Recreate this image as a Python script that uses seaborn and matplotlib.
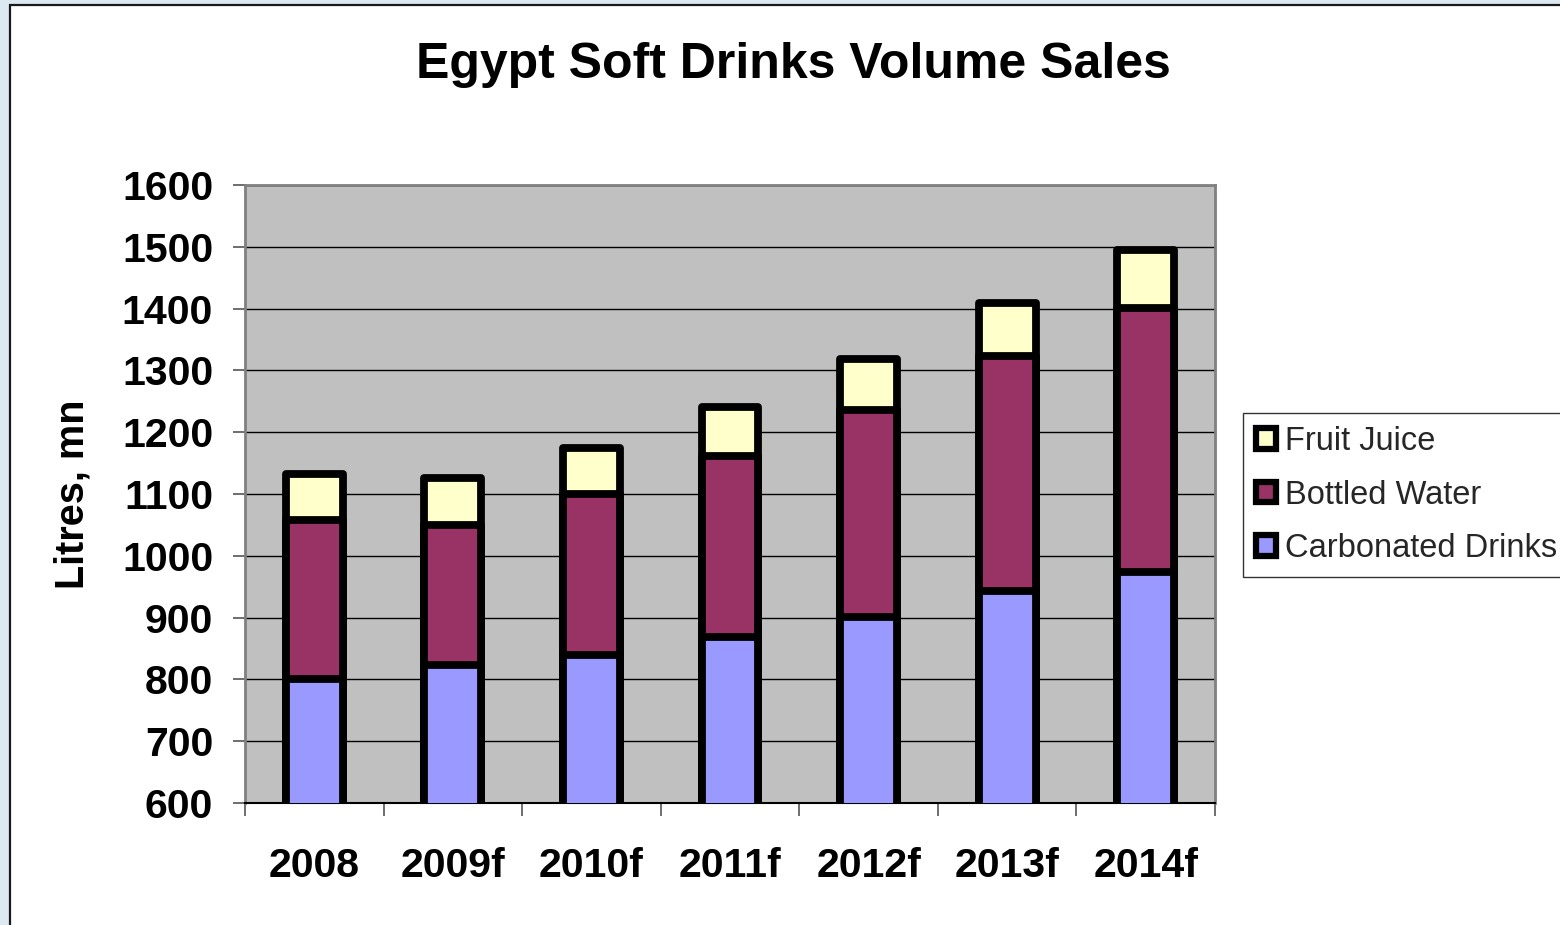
import numpy as np
import pandas as pd
import matplotlib
matplotlib.use("Agg")
import matplotlib.pyplot as plt
import seaborn as sns
from matplotlib.patches import Rectangle, Patch
from matplotlib.ticker import FixedLocator

# Volume sales, litres (millions)
years = ["2008", "2009f", "2010f", "2011f", "2012f", "2013f", "2014f"]
carbonated = [800, 823, 840, 869, 901, 943, 974]
bottled_water = [258, 227, 260, 292, 335, 380, 427]
fruit_juice = [75, 76, 74, 80, 82, 86, 94]

series_names = ["Fruit Juice", "Bottled Water", "Carbonated Drinks"]
series_colors = ["#FFFFCC", "#993366", "#9999FF"]

sns.set_theme(style="white")
plt.rcParams["font.family"] = ["Liberation Sans", "DejaVu Sans"]

df = pd.DataFrame({
    "year": years,
    "carb": carbonated,
    "water": bottled_water,
    "juice": fruit_juice,
})
df["carb_water"] = df["carb"] + df["water"]
df["total"] = df["carb_water"] + df["juice"]

fig = plt.figure(figsize=(15.6, 9.25), dpi=100)
fig.patch.set_facecolor("#dce9f3")

# white chart-area panel with dark frame
fig.add_artist(Rectangle((10 / 1560, -0.1), 1.2, 1.1 - 5 / 925,
                         transform=fig.transFigure, facecolor="white",
                         edgecolor="#1a1a1a", linewidth=1.6, zorder=0))

ax = fig.add_axes([245 / 1560, 1 - 803 / 925, 970 / 1560, (803 - 185) / 925])
ax.set_facecolor("#C0C0C0")

# stacked layers drawn back to front as cumulative totals
layers = [("total", series_colors[0]), ("carb_water", series_colors[1]), ("carb", series_colors[2])]
for col, colr in layers:
    sns.barplot(data=df, x="year", y=col, color=colr, saturation=1,
                edgecolor="black", linewidth=5.6, width=0.41,
                errorbar=None, ax=ax, zorder=3)
for p in ax.patches:
    p.set_joinstyle("round")

ax.set_ylim(600, 1600)
ax.set_xlim(-0.5, len(years) - 0.5)
ax.set_yticks(np.arange(600, 1601, 100))
ax.yaxis.grid(True, color="black", linewidth=1.0)
ax.set_axisbelow(True)

ax.tick_params(axis="y", which="major", direction="out", length=9, width=1.2,
               color="#555555", left=True, pad=14, labelsize=29.5)
ax.tick_params(axis="x", which="major", length=0, pad=32, labelsize=29.5)
ax.xaxis.set_minor_locator(FixedLocator(np.arange(-0.5, len(years), 1.0)))
ax.tick_params(axis="x", which="minor", direction="out", length=9, width=1.2,
               color="#555555", bottom=True)
for lab in ax.get_xticklabels() + ax.get_yticklabels():
    lab.set_fontweight("bold")
    lab.set_color("black")

ax.set_xlabel("")
ax.set_ylabel("Litres, mn", fontsize=28.5, fontweight="bold", labelpad=22, color="black")

for side in ["top", "right", "left"]:
    ax.spines[side].set_color("#808080")
    ax.spines[side].set_linewidth(2)
ax.spines["bottom"].set_color("black")
ax.spines["bottom"].set_linewidth(1.5)

fig.text(793 / 1560, 1 - 65 / 925, "Egypt Soft Drinks Volume Sales",
         ha="center", va="center", fontsize=36, fontweight="bold", color="black")

handles = [Patch(facecolor=c, edgecolor="black", linewidth=4.5, joinstyle="round")
           for c in series_colors]
leg = fig.legend(handles, series_names, loc="center left",
                 bbox_to_anchor=(1243 / 1560, 1 - 495 / 925),
                 fontsize=23.5, frameon=True, fancybox=False,
                 edgecolor="black", handlelength=0.6, handleheight=0.6,
                 handletextpad=0.3, labelspacing=0.68, borderpad=0.4,
                 borderaxespad=0)
leg.get_frame().set_linewidth(1.0)

fig.savefig("out.png", dpi=100)
